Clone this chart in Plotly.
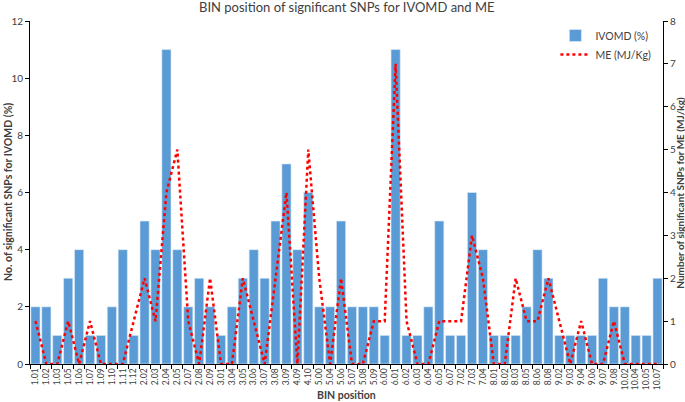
import plotly.graph_objects as go

bins = ["1.01", "1.02", "1.03", "1.05", "1.06", "1.07", "1.09", "1.10", "1.11", "1.12",
        "2.02", "2.03", "2.04", "2.05", "2.07", "2.08", "2.09", "3.01", "3.04", "3.05",
        "3.06", "3.07", "3.08", "3.09", "4.09", "4.10", "5.00", "5.04", "5.06", "5.07",
        "5.08", "5.09", "6.00", "6.01", "6.02", "6.03", "6.04", "6.05", "6.07", "7.02",
        "7.03", "7.04", "8.01", "8.02", "8.03", "8.05", "8.06", "8.08", "9.02", "9.03",
        "9.04", "9.06", "9.07", "9.08", "10.02", "10.04", "10.05", "10.07"]

ivomd = [2, 2, 1, 3, 4, 1, 1, 2, 4, 1,
         5, 4, 11, 4, 2, 3, 2, 1, 2, 3,
         4, 3, 5, 7, 4, 6, 2, 2, 5, 2,
         2, 2, 1, 11, 1, 1, 2, 5, 1, 1,
         6, 4, 1, 1, 1, 2, 4, 3, 1, 1,
         1, 1, 3, 2, 2, 1, 1, 3]

me = [1, 0, 0, 1, 0, 1, 0, 0, 0, 1,
      2, 1, 4, 5, 1, 0, 2, 0, 0, 2,
      1, 0, 2, 4, 0, 5, 2, 0, 2, 0,
      0, 1, 1, 7, 1, 0, 0, 1, 1, 1,
      3, 2, 0, 0, 2, 1, 1, 2, 1, 0,
      1, 0, 0, 1, 0, 0, 0, 0]

FONT = "Lato"
TXT = "#404040"

fig = go.Figure()
fig.add_trace(go.Bar(
    x=bins, y=ivomd, name="IVOMD (%)",
    marker=dict(color="#5B9BD5", line=dict(color="#DDEBF7", width=0.6)),
))
fig.add_trace(go.Scatter(
    x=bins, y=me, name="ME (MJ/Kg)", yaxis="y2", mode="lines",
    line=dict(color="#FF0000", width=2.5, dash="dot"),
))

fig.update_layout(
    width=685, height=402,
    margin=dict(l=30, r=22, t=21, b=38),
    paper_bgcolor="white", plot_bgcolor="white",
    font=dict(family=FONT, size=10, color=TXT),
    bargap=0.16,
    showlegend=True,
    legend=dict(x=0.83, y=1.0, xanchor="left", yanchor="top",
                font=dict(family=FONT, size=10.5, color=TXT),
                bgcolor="rgba(0,0,0,0)", tracegroupgap=2),
    xaxis=dict(type="category", range=[-0.5, len(bins) - 0.5],
               tickmode="array", tickvals=bins, ticktext=bins,
               tickangle=-90, tickfont=dict(size=8.5, color=TXT),
               showline=True, linecolor="#000000", linewidth=1,
               ticks="outside", ticklen=4, tickcolor="#000000",
               tickson="boundaries", showgrid=False, automargin=False),
    yaxis=dict(range=[0, 12], dtick=2, showline=True, linecolor="#000000",
               linewidth=1, ticks="outside", ticklen=4, tickcolor="#000000",
               showgrid=False, zeroline=False, tickfont=dict(size=10, color=TXT),
               automargin=False),
    yaxis2=dict(range=[0, 8], dtick=1, overlaying="y", side="right",
                showline=True, linecolor="#000000", linewidth=1,
                ticks="outside", ticklen=4, tickcolor="#000000",
                showgrid=False, zeroline=False, tickfont=dict(size=10, color=TXT),
                automargin=False),
    annotations=[
        dict(text="BIN position of significant SNPs for IVOMD and ME",
             x=0.5, y=1.0, xref="paper", yref="paper", yshift=4,
             xanchor="center", yanchor="bottom", showarrow=False,
             font=dict(family=FONT, size=13, color=TXT)),
        dict(text="<b>No. of significant SNPs for IVOMD (%)</b>",
             x=-0.0355, y=0.5, xref="paper", yref="paper", xanchor="center",
             yanchor="middle", showarrow=False, textangle=-90,
             font=dict(family=FONT, size=10.5, color=TXT)),
        dict(text="<b>Number of significant SNPs for ME (MJ/kg)</b>",
             x=1.0255, y=0.5, xref="paper", yref="paper", xanchor="center",
             yanchor="middle", showarrow=False, textangle=-90,
             font=dict(family=FONT, size=10, color=TXT)),
        dict(text="<b>BIN position</b>",
             x=0.5, y=0, xref="paper", yref="paper", yshift=-31,
             xanchor="center", yanchor="middle", showarrow=False,
             font=dict(family=FONT, size=10.5, color=TXT)),
    ],
)

fig.write_html("out.html", config={"displayModeBar": False},
               post_script="document.body.style.margin='0';")
